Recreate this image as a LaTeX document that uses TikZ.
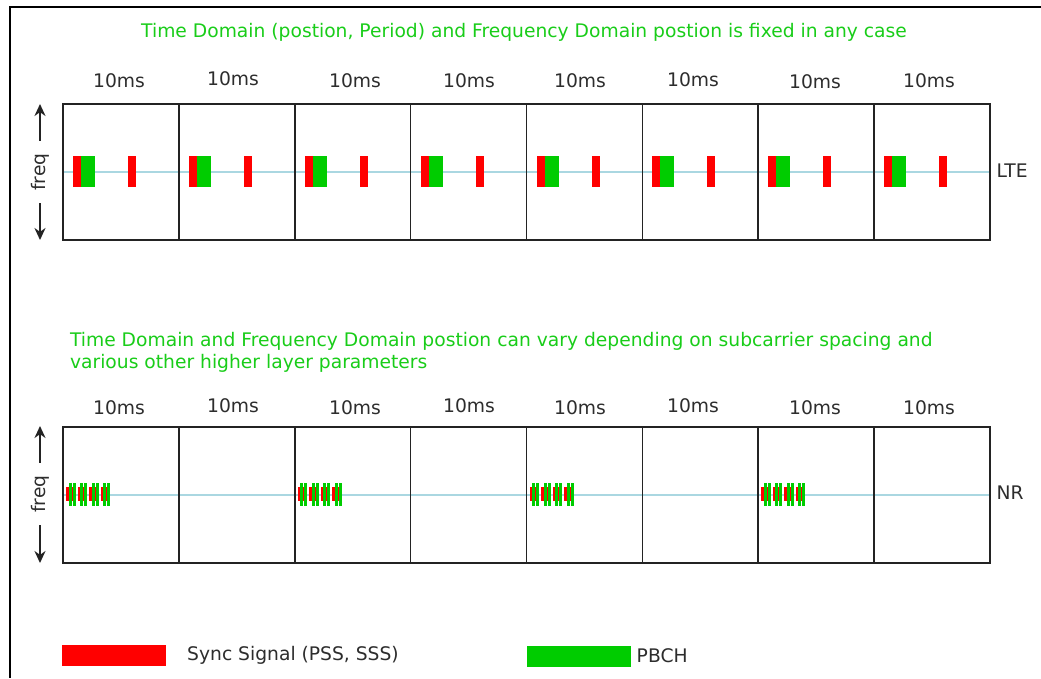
\documentclass[tikz,border=0pt]{standalone}
\usepackage{fontspec}
\setmainfont{DejaVu Sans}
\usetikzlibrary{arrows.meta, positioning, backgrounds}
\definecolor{syncred}{RGB}{255,0,0}
\definecolor{pbchgreen}{RGB}{0,204,0}
\definecolor{titlegreen}{RGB}{25,205,25}
\definecolor{framegray}{RGB}{35,35,35}
\definecolor{axisblue}{RGB}{170,215,225}
\definecolor{textgray}{RGB}{45,45,45}

\begin{document}
\begin{tikzpicture}[
        x=1pt, y=-1pt,
        every node/.style={font=\fontsize{18.7}{22}\selectfont, text=textgray},
        frame/.style={rectangle, draw=framegray, line width=1.5pt, minimum width=115.9pt, minimum height=136pt, inner sep=0pt},
        heading/.style={text=titlegreen},
        sync/.style={fill=syncred},
        pbch/.style={fill=pbchgreen},
        key/.style={rectangle, inner sep=0pt, minimum width=104pt, minimum height=21pt},
        axis/.style={draw=axisblue, line width=1.5pt},
        freqarrow/.style={-{Stealth[length=12pt, width=11pt]}, line width=2pt, draw=framegray, shorten <=9pt}
    ]
        \useasboundingbox (0,0) rectangle (1041,678);
        \draw[line width=1.4pt] (1041,7) -- (10,7) -- (10,678);

        % titles
        \node[heading] (ltetitle) at (524,32) {Time Domain (postion, Period) and Frequency Domain postion is fixed in any case};
        \node[heading, anchor=west, align=left] (nrtitle) at (66.5,352) {Time Domain and Frequency Domain postion can vary depending on subcarrier spacing and\\various other higher layer parameters};

        % radio frames
        \foreach \i in {1,...,8} {
            \node[frame] (lte\i) at ({63+115.875*(\i-0.5)}, 172) {};
            \node[frame] (nr\i) at ({63+115.875*(\i-0.5)}, 495) {};
        }
        \begin{scope}[on background layer]
            \fill[white] (0,0) rectangle (1041,678);
            \draw[axis] (lte1.west) -- (lte8.east);
            \draw[axis] (nr1.west) -- (nr8.east);
        \end{scope}

        \foreach \x/\y [count=\k] in {119/81, 233/79, 355/81, 469/81, 580/81, 693/80, 815/82, 929/81}
            \node (ltems\k) at (\x,\y) {10ms};
        \foreach \x/\y [count=\k] in {119/408, 233/406, 355/408, 469/406, 580/408, 693/406, 815/408, 929/408}
            \node (nrms\k) at (\x,\y) {10ms};

        \node[anchor=west] (ltelabel) at (993,171) {LTE};
        \node[anchor=west] (nrlabel) at (993,493) {NR};

        % freq axis
        \node[rotate=90] (ltefreq) at (40,172) {freq};
        \coordinate (lteup) at (40,104);
        \coordinate (ltedown) at (40,240);
        \draw[freqarrow] (ltefreq.east) -- (lteup);
        \draw[freqarrow] (ltefreq.west) -- (ltedown);
        \node[rotate=90] (nrfreq) at (40,494) {freq};
        \coordinate (nrup) at (40,426);
        \coordinate (nrdown) at (40,563);
        \draw[freqarrow] (nrfreq.east) -- (nrup);
        \draw[freqarrow] (nrfreq.west) -- (nrdown);

        % LTE: PSS/SSS + PBCH every frame
        \foreach \i in {1,...,8} {
            \begin{scope}[xshift={115.875*(\i-1)}]
                \fill[sync] (73,156) rectangle (81,187);
                \fill[pbch] (81,156) rectangle (95,187);
                \fill[sync] (128,156) rectangle (136,187);
            \end{scope}
        }

        % NR: SS blocks every other frame
        \foreach \i in {1,3,5,7} {
            \begin{scope}[xshift={115.875*(\i-1)}]
                \foreach \g in {0,...,3} {
                    \fill[sync] ({66+11.5*\g},487) rectangle ++(8,14);
                    \fill[pbch] ({68.5+11.5*\g},482.5) rectangle ++(3,23);
                    \fill[pbch] ({72.7+11.5*\g},482.5) rectangle ++(3,23);
                }
            \end{scope}
        }

        % legend
        \node[key, sync] (synckey) at (114,655) {};
        \node[right=17.5pt of synckey] (synctext) {Sync Signal (PSS, SSS)};
        \node[key, pbch] (pbchkey) at (578.5,656) {};
        \node[right=2.5pt of pbchkey] (pbchtext) {PBCH};
    \end{tikzpicture}
\end{document}
